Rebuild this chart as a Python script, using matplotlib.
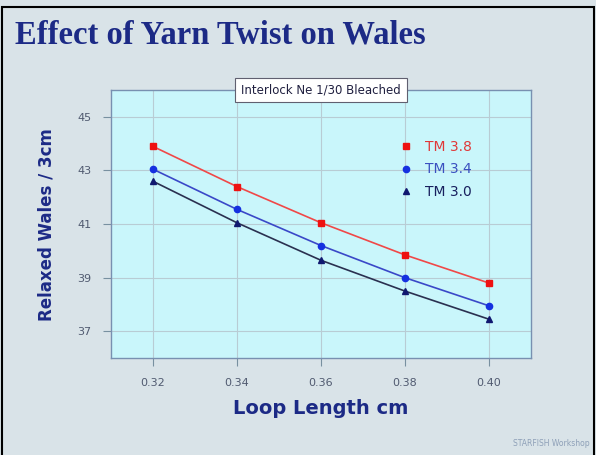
import matplotlib
matplotlib.use('Agg')
import matplotlib.pyplot as plt
from matplotlib.patches import Rectangle

loop_length = [0.32, 0.34, 0.36, 0.38, 0.40]
tm38 = [43.9, 42.4, 41.05, 39.85, 38.8]
tm34 = [43.05, 41.55, 40.2, 39.0, 37.95]
tm30 = [42.6, 41.05, 39.65, 38.5, 37.45]
series_labels = ['TM 3.8', 'TM 3.4', 'TM 3.0']
x_ticks = [0.32, 0.34, 0.36, 0.38, 0.40]
x_ticklabels = ['0.32', '0.34', '0.36', '0.38', '0.40']
y_ticks = [37, 39, 41, 43, 45]

navy = '#1c2a86'
bg = '#d9e3e8'

fig = plt.figure(figsize=(5.96, 4.55), dpi=100, facecolor=bg)
ax = fig.add_axes([0.186, 0.213, 0.705, 0.589])
ax.set_facecolor('#c9f6fb')

ax.plot(loop_length, tm38, color='#f04848', lw=1.2, marker='s', ms=4.5,
        mfc='#ee1111', mec='#ee1111', label=series_labels[0])
ax.plot(loop_length, tm34, color='#3a48c8', lw=1.2, marker='o', ms=4.5,
        mfc='#1530e0', mec='#1530e0', label=series_labels[1])
ax.plot(loop_length, tm30, color='#2a3050', lw=1.2, marker='^', ms=4.5,
        mfc='#101870', mec='#101870', label=series_labels[2])

ax.set_xlim(0.31, 0.41)
ax.set_ylim(36, 46)
ax.set_xticks(x_ticks)
ax.set_xticklabels(x_ticklabels)
ax.set_yticks(y_ticks)
ax.grid(True, color='#b8ccd4', lw=0.8)
ax.set_axisbelow(True)
for s in ax.spines.values():
    s.set_color('#7890b0')
    s.set_linewidth(1.0)
ax.tick_params(axis='both', colors='#7890a0', labelcolor='#505a70',
               labelsize=8, length=6, direction='out')
ax.tick_params(axis='x', pad=8)
ax.tick_params(axis='y', pad=8)

ax.set_xlabel('Loop Length cm', fontsize=14, fontweight='bold', color=navy,
              labelpad=8)
ax.set_ylabel('Relaxed Wales / 3cm', fontsize=12, fontweight='bold',
              color=navy, labelpad=16)

# legend: markers only, coloured text
leg = ax.legend(handles=[
    plt.Line2D([], [], ls='none', marker='s', ms=4.5, color='#ee1111'),
    plt.Line2D([], [], ls='none', marker='o', ms=4.5, color='#1530e0'),
    plt.Line2D([], [], ls='none', marker='^', ms=4.5, color='#101870')],
    labels=series_labels, loc='upper left', bbox_to_anchor=(0.655, 0.86),
    frameon=False, fontsize=10, handletextpad=0.9, labelspacing=0.6,
    handlelength=1.0)
for t, c in zip(leg.get_texts(), ['#e03838', '#3a50c0', '#18205e']):
    t.set_color(c)

ax.text(0.5, 1.0, 'Interlock Ne 1/30 Bleached', transform=ax.transAxes,
        ha='center', va='center', fontsize=8.5, color='#202040',
        bbox=dict(boxstyle='square,pad=0.5', fc='white', ec='#606070', lw=0.8),
        zorder=10)

fig.text(0.025, 0.922, 'Effect of Yarn Twist on Wales', fontsize=23.5,
         fontweight='bold', family='Liberation Serif', color=navy,
         ha='left', va='center')
fig.text(0.99, 0.025, 'STARFISH Workshop', fontsize=5.5, color='#8ea0b8',
         ha='right', va='center')

fig.add_artist(Rectangle((0.003, -0.01), 0.994, 0.995, transform=fig.transFigure,
                         fill=False, ec='black', lw=1.5))

fig.savefig('out.png', dpi=100, facecolor=bg)
